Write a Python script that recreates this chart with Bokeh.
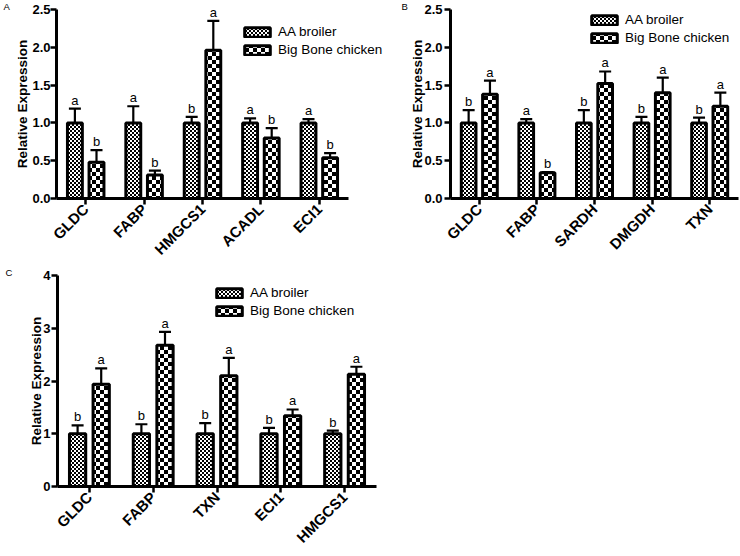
import math
import zlib
import struct
import base64
from bokeh.plotting import figure
from bokeh.models import (Range1d, FixedTicker, PrintfTickFormatter,
                          Legend, LegendItem, ColumnDataSource, ImageURLTexture)
from bokeh.core.properties import value
from bokeh.layouts import column, row
from bokeh.embed import file_html
from bokeh.resources import INLINE

FONT = "Liberation Sans"

# ---------------- data ----------------
series_names = ["AA broiler", "Big Bone chicken"]

genes_a = ["GLDC", "FABP", "HMGCS1", "ACADL", "ECI1"]
aa_a = [1.0, 1.0, 1.0, 1.0, 1.0]
aa_sem_a = [0.19, 0.22, 0.08, 0.06, 0.05]
bb_a = [0.48, 0.31, 1.96, 0.80, 0.54]
bb_sem_a = [0.16, 0.06, 0.39, 0.13, 0.06]
sig_aa_a = ["a", "a", "b", "a", "a"]
sig_bb_a = ["b", "b", "a", "b", "b"]
yticks_a = [0.0, 0.5, 1.0, 1.5, 2.0, 2.5]

genes_b = ["GLDC", "FABP", "SARDH", "DMGDH", "TXN"]
aa_b = [1.0, 1.0, 1.0, 1.0, 1.0]
aa_sem_b = [0.17, 0.05, 0.17, 0.08, 0.07]
bb_b = [1.38, 0.34, 1.52, 1.40, 1.22]
bb_sem_b = [0.18, 0.01, 0.16, 0.20, 0.18]
sig_aa_b = ["b", "a", "b", "b", "b"]
sig_bb_b = ["a", "b", "a", "a", "a"]
yticks_b = [0.0, 0.5, 1.0, 1.5, 2.0, 2.5]

genes_c = ["GLDC", "FABP", "TXN", "ECI1", "HMGCS1"]
aa_c = [1.0, 1.0, 1.0, 1.0, 1.0]
aa_sem_c = [0.16, 0.18, 0.20, 0.11, 0.06]
bb_c = [1.94, 2.68, 2.10, 1.34, 2.13]
bb_sem_c = [0.30, 0.25, 0.34, 0.12, 0.14]
sig_aa_c = ["b", "b", "b", "b", "b"]
sig_bb_c = ["a", "a", "a", "a", "a"]
yticks_c = [0, 1, 2, 3, 4]


# ---------------- checkerboard pattern textures (PNG data URIs) ----------------
def png_checker_uri(cell):
    n = 2 * cell
    raw = b""
    for yy in range(n):
        raw += b"\x00" + bytes(0 if ((xx // cell) + (yy // cell)) % 2 == 0 else 255
                               for xx in range(n))

    def chunk(tag, data):
        return (struct.pack(">I", len(data)) + tag + data
                + struct.pack(">I", zlib.crc32(tag + data) & 0xffffffff))
    png = (b"\x89PNG\r\n\x1a\n"
           + chunk(b"IHDR", struct.pack(">IIBBBBB", n, n, 8, 0, 0, 0, 0))
           + chunk(b"IDAT", zlib.compress(raw))
           + chunk(b"IEND", b""))
    return "data:image/png;base64," + base64.b64encode(png).decode()


fine_url = png_checker_uri(2)
coarse_url = png_checker_uri(4)

OFF = 0.185
BW = 0.255


def make_panel(genes, aa, aa_sem, bb, bb_sem, sig_aa, sig_bb, yticks, fmt,
               width, height, mb_left, mb_right, mb_bottom, x_extra,
               legend_xy, letter, letter_offset, tick_standoff, label_standoff):
    ymax = yticks[-1]
    n = len(genes)
    pos = [i + 1 for i in range(n)]          # category slots 1..n
    p = figure(width=width, height=height,
               x_range=Range1d(0.5, n + 0.5 + x_extra),
               y_range=Range1d(0, ymax), output_backend="svg",
               toolbar_location=None, tools="",
               min_border_left=mb_left, min_border_right=mb_right,
               min_border_top=0, min_border_bottom=mb_bottom)
    p.outline_line_color = None
    p.xgrid.visible = False
    p.ygrid.visible = False
    p.background_fill_color = "white"
    p.border_fill_color = "white"

    # panel letter as the title, pushed into the left border
    p.title.text = letter
    p.title.align = "left"
    p.title.offset = letter_offset
    p.title.standoff = -4
    p.title.text_font = FONT
    p.title.text_font_size = "9.5px"
    p.title.text_font_style = "normal"
    p.title.text_color = "black"

    src = ColumnDataSource(dict(
        xa=[x - OFF for x in pos], xb=[x + OFF for x in pos],
        aa=aa, bb=bb,
        aa_up=[m + s for m, s in zip(aa, aa_sem)],
        bb_up=[m + s for m, s in zip(bb, bb_sem)],
        sig_aa=sig_aa, sig_bb=sig_bb))

    # error bars (mean + SEM, upper half only)
    for xx, top, up in (("xa", "aa", "aa_up"), ("xb", "bb", "bb_up")):
        p.segment(x0=xx, y0=top, x1=xx, y1=up, source=src,
                  line_color="black", line_width=2.2)
        p.scatter(x=xx, y=up, source=src, marker="dash", size=12,
                  line_color="black", line_width=2.2)

    r_aa = p.vbar(x="xa", top="aa", width=BW, source=src,
                  fill_color="white", line_color="black", line_width=3,
                  hatch_pattern=value("fine"),
                  hatch_extra={"fine": ImageURLTexture(url=fine_url)})
    r_bb = p.vbar(x="xb", top="bb", width=BW, source=src,
                  fill_color="white", line_color="black", line_width=3,
                  hatch_pattern=value("coarse"),
                  hatch_extra={"coarse": ImageURLTexture(url=coarse_url)})

    for xx, up, sig in (("xa", "aa_up", "sig_aa"), ("xb", "bb_up", "sig_bb")):
        p.text(x=xx, y=up, text=sig, source=src, text_align="center",
               text_baseline="bottom", y_offset=-1,
               text_font=value(FONT), text_font_size="13px", text_color="black")

    # axes
    for ax in (p.xaxis[0], p.yaxis[0]):
        ax.axis_line_width = 3
        ax.axis_line_color = "black"
        ax.major_tick_line_width = 2.5
        ax.major_tick_line_color = "black"
        ax.major_tick_out = 6
        ax.major_tick_in = 0
        ax.minor_tick_out = 0
        ax.minor_tick_in = 0
        ax.major_label_text_font = FONT
        ax.major_label_text_font_style = "bold"
        ax.major_label_text_color = "black"

    p.xaxis.bounds = (0.5, n + 0.5)
    p.xaxis.ticker = FixedTicker(ticks=pos)
    overrides = {}
    for x, g in zip(pos, genes):
        overrides[x] = g
        overrides[str(x)] = g
    p.xaxis.major_label_overrides = overrides
    p.xaxis.major_label_orientation = math.pi / 4
    p.xaxis.major_label_text_font_size = "15px"
    p.xaxis.major_label_standoff = 2

    p.yaxis.ticker = FixedTicker(ticks=yticks)
    p.yaxis.formatter = PrintfTickFormatter(format=fmt)
    p.yaxis.major_label_text_font_size = "13px"
    p.yaxis.major_label_standoff = tick_standoff
    p.yaxis.axis_label = "Relative Expression"
    p.yaxis.axis_label_text_font = FONT
    p.yaxis.axis_label_text_font_style = "bold"
    p.yaxis.axis_label_text_font_size = "13.5px"
    p.yaxis.axis_label_text_color = "black"
    p.yaxis.axis_label_standoff = label_standoff

    legend = Legend(items=[LegendItem(label=series_names[0], renderers=[r_aa]),
                           LegendItem(label=series_names[1], renderers=[r_bb])],
                    location=legend_xy, glyph_width=32, glyph_height=12,
                    label_text_font=FONT, label_text_font_size="13.5px",
                    label_text_color="black", label_height=17,
                    padding=0, margin=0, spacing=1, label_standoff=5,
                    border_line_color=None, background_fill_alpha=0)
    p.add_layout(legend)
    return p


pA = make_panel(genes_a, aa_a, aa_sem_a, bb_a, bb_sem_a, sig_aa_a, sig_bb_a,
                yticks_a, "%.1f", 388, 266, 56, 0, 66, 0.685,
                (185, 140), "A", -53, 0, -1)
pB = make_panel(genes_b, aa_b, aa_sem_b, bb_b, bb_sem_b, sig_aa_b, sig_bb_b,
                yticks_b, "%.1f", 352, 266, 62, 2, 67, 0.0,
                (138, 152), "B", -49, 2, -4)
pC = make_panel(genes_c, aa_c, aa_sem_c, bb_c, bb_sem_c, sig_aa_c, sig_bb_c,
                yticks_c, "%d", 420, 290, 57, 44, 70, 0.0,
                (156, 167), "C", -52, 1, -4)

layout = column(row(pA, pB), pC)

open("out.html", "w").write(file_html(layout, INLINE))
